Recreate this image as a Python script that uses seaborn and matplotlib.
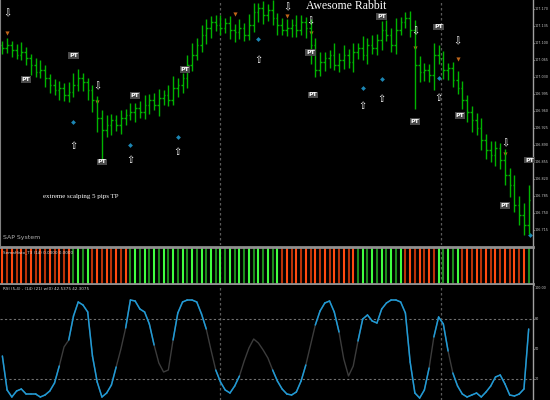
import numpy as np
import seaborn as sns
import matplotlib.pyplot as plt

# price in points above base (1 point = 0.001)
base = 106.700
close_pts = [390, 396, 386, 375, 381, 369, 355, 340, 344, 328, 313, 303, 307, 293, 299, 313, 328, 320, 303, 283,
             246, 221, 231, 241, 231, 246, 252, 258, 266, 258, 272, 283, 272, 287, 293, 283, 307, 313, 328, 355,
             375, 396, 416, 431, 443, 437, 431, 441, 427, 423, 431, 416, 437, 464, 472, 458, 468, 451, 437, 427,
             431, 437, 427, 443, 431, 396, 344, 361, 369, 375, 355, 365, 375, 361, 381, 390, 375, 396, 390, 406,
             427, 416, 396, 427, 443, 451, 427, 355, 340, 344, 334, 375, 369, 344, 348, 324, 307, 283, 258, 241,
             225, 200, 180, 169, 184, 159, 128, 108, 67, 46, 25, 77]
up_wick = [10, 15, 8, 12, 20, 10, 8, 15, 20, 10, 8, 12, 15, 10, 20, 25, 18, 10, 8, 10,
           8, 15, 20, 12, 10, 15, 12, 18, 10, 15, 20, 12, 15, 18, 10, 20, 25, 15, 10, 20,
           25, 15, 20, 18, 12, 15, 20, 10, 15, 12, 18, 10, 22, 18, 10, 15, 12, 20, 10, 15,
           18, 12, 20, 15, 10, 18, 15, 20, 12, 10, 25, 15, 20, 12, 18, 10, 25, 15, 20, 12,
           18, 20, 15, 25, 10, 12, 15, 20, 18, 15, 12, 25, 20, 15, 10, 12, 18, 15, 10, 12,
           15, 20, 12, 18, 15, 10, 22, 15, 20, 18, 25, 30]
dn_wick = [12, 10, 15, 8, 10, 15, 20, 10, 12, 18, 15, 10, 20, 12, 15, 10, 12, 18, 20, 25,
           30, 60, 15, 20, 12, 18, 15, 10, 20, 12, 15, 18, 10, 22, 15, 12, 10, 18, 15, 20,
           12, 10, 15, 18, 20, 12, 15, 10, 18, 22, 15, 12, 10, 15, 20, 18, 12, 15, 20, 10,
           12, 18, 15, 10, 20, 40, 15, 12, 18, 20, 10, 15, 18, 12, 20, 15, 10, 18, 12, 15,
           20, 12, 15, 18, 10, 12, 15, 90, 20, 18, 15, 30, 12, 18, 20, 15, 12, 18, 20, 25,
           15, 20, 18, 15, 22, 18, 20, 25, 15, 20, 20, 18]

# histogram state per bar
hist_state = "r" * 15 + "g" * 4 + "r" * 8 + "g" * 32 + "r" * 16 + "g" * 10 + "r" * 7 + "g" * 5 + "r" * 14 + "g"

# oscillator value per bar
osc = [43, 9, 2, 8, 10, 5, 5, 5, 2, 4, 8, 16, 33, 52, 59, 83, 97, 94, 87, 43,
       17, 2, 6, 14, 32, 50, 71, 99, 98, 90, 87, 75, 54, 36, 27, 29, 59, 86, 97, 99,
       99, 97, 85, 70, 49, 29, 17, 9, 6, 13, 23, 38, 51, 60, 56, 49, 41, 29, 18, 10,
       5, 4, 7, 18, 34, 54, 74, 88, 96, 98, 87, 67, 40, 23, 33, 58, 80, 84, 78, 76,
       90, 96, 99, 99, 97, 86, 37, 6, 1, 9, 31, 62, 82, 75, 48, 26, 13, 5, 2, 4,
       6, 2, 7, 13, 22, 24, 15, 4, 3, 5, 10, 70]

# signals (bar index, price points)
down_i = [1, 20, 60, 65, 87, 96, 106]
down_p = [462, 311, 474, 445, 423, 404, 194]
orange_i = [1, 20, 49, 60, 65, 87, 96, 106]
orange_p = [420, 278, 460, 456, 420, 390, 367, 171]
up_i = [15, 27, 37, 54, 76, 80, 92]
up_p = [188, 159, 175, 365, 270, 285, 287]
blue_i = [15, 27, 37, 54, 76, 80, 92, 111.3]
blue_p = [237, 190, 206, 408, 307, 326, 328, 4]
pt_i = [5, 15, 28, 38.5, 21, 65, 65.5, 80, 92, 87, 96.5, 106, 111.2]
pt_p = [324, 375, 291, 346, 155, 381, 293, 455, 433, 239, 250, 66, 159]

sep_bars = [46, 92.6]

sns.set_style("dark", {"axes.facecolor": "black", "figure.facecolor": "black"})

n = len(close_pts)
idx = np.arange(n)
c = base + np.array(close_pts) / 1000
o = np.concatenate([[base + 0.395], c[:-1]])
hi = np.maximum(o, c) + np.array(up_wick) / 1000
lo = np.minimum(o, c) - np.array(dn_wick) / 1000

fig = plt.figure(figsize=(5.5, 4), dpi=100)
fig.patch.set_facecolor("black")
w = 0.969
ax1 = fig.add_axes([0, 0.3875, w, 0.6125])
ax2 = fig.add_axes([0, 0.29, w, 0.0925])
ax3 = fig.add_axes([0, 0, w, 0.2875])

xlim = (-0.5, 111.9)
for ax in (ax1, ax2, ax3):
    ax.set_facecolor("black")
    ax.set_xlim(*xlim)
    ax.set_xticks([])
    for s in ax.spines.values():
        s.set_visible(False)
    ax.spines["right"].set_visible(True)
    ax.spines["right"].set_color("#a0a0a0")
    ax.spines["right"].set_linewidth(1)
    for xb in sep_bars:
        ax.axvline(xb, color="#5a5a5a", ls=(0, (2, 2)), lw=0.9)
    ax.yaxis.tick_right()
    ax.tick_params(axis="y", labelsize=2.4, colors="#c8c8c8", length=1, pad=0.2)

# price panel
ax1.spines["left"].set_visible(True)
ax1.spines["left"].set_color("#808080")
ax1.set_ylim(base - 0.016, base + 0.4885)
ax1.vlines(idx, lo, hi, color="#00b400", lw=1)
ax1.hlines(o, idx - 0.35, idx, color="#00b400", lw=1)
ax1.hlines(c, idx, idx + 0.35, color="#00b400", lw=1)
yt = [107.170 - 0.035 * k for k in range(14)]
ax1.set_yticks(yt)
ax1.set_yticklabels([f"{v:.3f}" for v in yt])

for i, p in zip(down_i, down_p):
    ax1.text(i, base + p / 1000, "\u21e9", color="white", fontsize=7, ha="center", va="center")
for i, p in zip(up_i, up_p):
    ax1.text(i, base + p / 1000, "\u21e7", color="white", fontsize=7, ha="center", va="center")
sns.scatterplot(x=orange_i, y=[base + p / 1000 for p in orange_p], marker="v", color="#c0661a",
                s=9, linewidth=0, ax=ax1)
sns.scatterplot(x=blue_i, y=[base + p / 1000 for p in blue_p], marker="D", color="#1c86b4",
                s=6, linewidth=0, ax=ax1)
for i, p in zip(pt_i, pt_p):
    ax1.text(i, base + p / 1000, "PT", color="white", fontsize=4.5, ha="center", va="center",
             fontweight="bold", bbox=dict(boxstyle="square,pad=0.15", fc="#4a4a4a", ec="none"))

ax1.text(0.65, 0.976, "Awesome Rabbit", transform=ax1.transAxes, color="white",
         fontsize=8.5, family="Liberation Serif", ha="center", va="center")
ax1.text(0.151, 0.196, "extreme scalping 5 pips TP", transform=ax1.transAxes, color="white",
         fontsize=5, family="Liberation Serif", ha="center", va="center")
ax1.text(0.006, 0.03, "SAP System", transform=ax1.transAxes, color="#b0b0b0",
         fontsize=4.5, ha="left", va="center")

# histogram panel
ax2.set_ylim(0, 1)
ax2.set_yticks([])
ax2.spines["top"].set_visible(True)
ax2.spines["bottom"].set_visible(True)
ax2.spines["top"].set_color("#909090")
ax2.spines["bottom"].set_color("#909090")
ax2.spines["top"].set_linewidth(2)
ax2.spines["bottom"].set_linewidth(2)
red_shades = ["#ff4a10", "#b83208"]
green_shades = ["#40ff40", "#1c8c1c"]
cols = [(red_shades if s == "r" else green_shades)[k % 2] for k, s in enumerate(hist_state)]
ax2.vlines(idx, 0, 1, colors=cols, lw=1.5)
ax2.text(0.006, 0.86, "SemaHisto_T3 (14) 0.0000 0.0000", transform=ax2.transAxes,
         color="#d0d0d0", fontsize=3, ha="left", va="center")

# oscillator panel
ax3.set_ylim(-1, 114)
ax3.axhline(80, color="#707070", ls=(0, (2, 2)), lw=0.8)
ax3.axhline(20, color="#707070", ls=(0, (2, 2)), lw=0.8)
sns.lineplot(x=idx, y=osc, color="#3c3c3c", lw=1, ax=ax3)
ov = np.array(osc)
for k in range(n - 1):
    a, b = ov[k], ov[k + 1]
    if max(a, b) >= 75 or min(a, b) <= 22:
        ax3.plot([k, k + 1], [a, b], color="#1e9ad6", lw=1.1, solid_capstyle="round")
ax3.set_yticks([80, 50, 20])
ax3.set_yticklabels(["80", "50", "20"])
ax3.set_ylabel("")
ax3.text(1.004, 0.975, "100.00", transform=ax3.transAxes, color="#c8c8c8", fontsize=2.4,
         ha="left", va="center")
ax3.text(0.006, 0.965, "RSI (5,4) - (14) (21) w(0) 42.5375 42.3075", transform=ax3.transAxes,
         color="#d0d0d0", fontsize=3, ha="left", va="center")

fig.savefig("out.png", dpi=100, facecolor="black")
